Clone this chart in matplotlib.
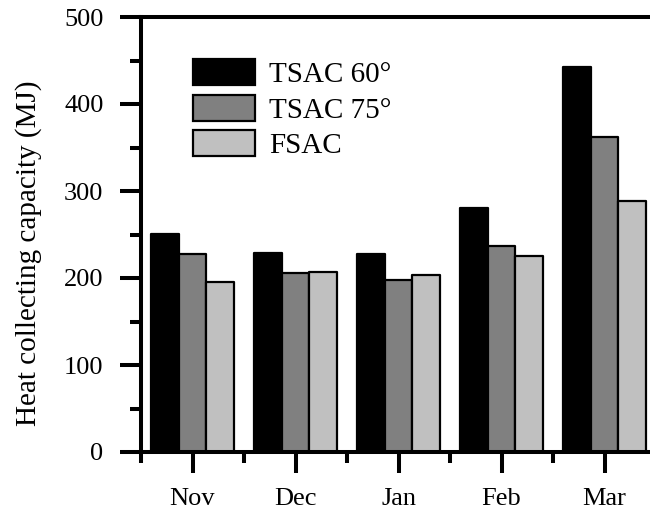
import numpy as np
import matplotlib.pyplot as plt
from matplotlib.ticker import MultipleLocator

# monthly heat collecting capacity (MJ)
months = ['Nov', 'Dec', 'Jan', 'Feb', 'Mar']
tsac_60 = [251, 229, 228, 280, 443]
tsac_75 = [228, 206, 198, 237, 362]
fsac = [195, 207, 204, 225, 288]

series = [('TSAC 60\u00b0', tsac_60, '#000000'),
          ('TSAC 75\u00b0', tsac_75, '#808080'),
          ('FSAC', fsac, '#c0c0c0')]

plt.rcParams['font.family'] = ['Liberation Serif', 'DejaVu Serif']
plt.rcParams['font.size'] = 19

fig = plt.figure(figsize=(6.5, 5.16), dpi=100)
ax = fig.add_axes([141 / 650, 64 / 516, 515 / 650, 435 / 516])

x = np.arange(1, len(months) + 1)
w = 0.27
for i, (name, vals, col) in enumerate(series):
    ax.bar(x + (i - 1) * w, vals, w, color=col, edgecolor='black',
           linewidth=1.6, joinstyle='round', label=name)

ax.set_xlim(0.5, 5.5)
ax.set_ylim(0, 500)
ax.set_xticks(x)
ax.set_xticklabels(months)
ax.xaxis.set_minor_locator(MultipleLocator(1, offset=0.5))
ax.yaxis.set_major_locator(MultipleLocator(100))
ax.yaxis.set_minor_locator(MultipleLocator(50))

for s in ax.spines.values():
    s.set_linewidth(2.9)
ax.spines['right'].set_visible(False)

ax.tick_params(axis='both', which='major', direction='out', length=15,
               width=2.9, pad=12)
ax.tick_params(axis='both', which='minor', direction='out', length=8,
               width=2.9)
ax.tick_params(axis='x', which='major', pad=11)

ax.set_ylabel('Heat collecting capacity (MJ)', fontsize=21)
ax.yaxis.set_label_coords(-0.192, 0.456)

ax.legend(loc='upper left', bbox_to_anchor=(0.062, 0.95), frameon=False,
          fontsize=21, handlelength=2.1, handleheight=1.0, labelspacing=0.22,
          handletextpad=0.5, borderaxespad=0.3)

fig.savefig('out.png', dpi=100)
